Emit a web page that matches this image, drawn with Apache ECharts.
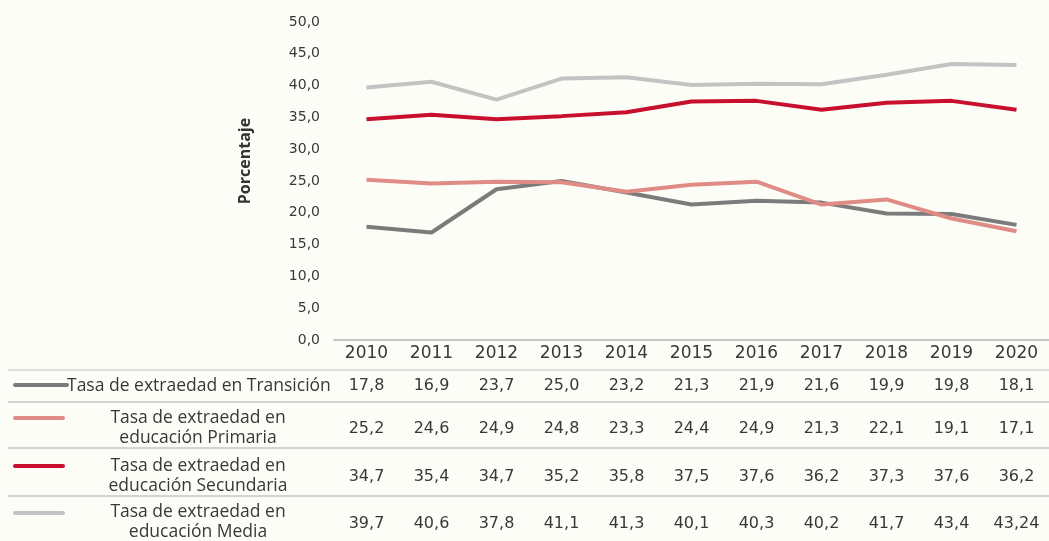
<!DOCTYPE html>
<html><head><meta charset="utf-8">
<script src="https://cdn.jsdelivr.net/npm/echarts@6/dist/echarts.min.js"></script>
<style>html,body{margin:0;padding:0;background:#fdfdf7}#c{width:1049px;height:541px}</style>
</head><body><div id="c"></div><script>
const years = ['2010','2011','2012','2013','2014','2015','2016','2017','2018','2019','2020'];
const transicion = [17.8,16.9,23.7,25.0,23.2,21.3,21.9,21.6,19.9,19.8,18.1];
const primaria = [25.2,24.6,24.9,24.8,23.3,24.4,24.9,21.3,22.1,19.1,17.1];
const secundaria = [34.7,35.4,34.7,35.2,35.8,37.5,37.6,36.2,37.3,37.6,36.2];
const media = [39.7,40.6,37.8,41.1,41.3,40.1,40.3,40.2,41.7,43.4,43.24];
const seriesNames = ['Tasa de extraedad en Transición','Tasa de extraedad en\neducación Primaria','Tasa de extraedad en\neducación Secundaria','Tasa de extraedad en\neducación Media'];
const colors = ['#7b7b7b','#e08c86','#c8102e','#c3c3c3'];
const rows = [transicion, primaria, secundaria, media];

function fmt(v){
  const t = v*10;
  const s = Math.abs(t - Math.round(t)) < 1e-6 ? v.toFixed(1) : String(v);
  return s.replace('.', ',');
}
const numFont = 'DejaVu Sans';
const txt = '#383838';
const rowMargins = [46, 89, 137, 184];

const xAxes = [{
  type:'category', data: years, gridIndex:0, position:'bottom',
  axisLine:{show:true, lineStyle:{color:'#c6c6c6', width:2}},
  axisTick:{show:false},
  axisLabel:{interval:0, margin:14, verticalAlign:'middle', fontFamily:numFont, fontSize:17, color:txt}
}];
rows.forEach((arr, r) => {
  xAxes.push({
    type:'category', data: years, gridIndex:0, position:'bottom',
    axisLine:{show:false}, axisTick:{show:false}, splitLine:{show:false},
    axisLabel:{interval:0, margin:rowMargins[r], verticalAlign:'middle', fontFamily:numFont, fontSize:16, color:txt,
      formatter:(v, i) => fmt(arr[i])}
  });
});

const graphic = [];
[370, 402, 448, 496].forEach((y, i) => {
  graphic.push({type:'line', shape:{x1:8, y1:y, x2:1049, y2:y}, style:{stroke: i===0 ? '#d6d6d6' : '#c4c4c4', lineWidth:1.5}, silent:true});
});
const legY = [385, 418, 466, 513];
legY.forEach((y, i) => {
  graphic.push({type:'line', shape:{x1:15, y1:y, x2:i===0?67:63, y2:y}, style:{stroke:colors[i], lineWidth:4, lineCap:'round'}, silent:true});
});
graphic.push({type:'text', x:67, y:386, style:{text:seriesNames[0], font:'17.5px "Open Sans"', fill:txt, textAlign:'left', textVerticalAlign:'middle'}});
[428, 476, 522].forEach((y, k) => {
  graphic.push({type:'text', x:198, y:y, style:{text:seriesNames[k+1], font:'17.5px "Open Sans"', fill:txt, textAlign:'center', textVerticalAlign:'middle', lineHeight:20}});
});
graphic.push({type:'text', x:245, y:161, rotation:Math.PI/2, style:{text:'Porcentaje', font:'bold 16px "Open Sans"', fill:'#333', textAlign:'center', textVerticalAlign:'middle'}});

const chart = echarts.init(document.getElementById('c'), null, {renderer:'canvas'});
chart.setOption({
  backgroundColor:'#fdfdf7',
  animation:false,
  grid:{left:334, top:22, width:720, height:318, containLabel:false},
  xAxis: xAxes,
  yAxis:{type:'value', min:0, max:50, interval:5,
    axisLine:{show:false}, axisTick:{show:false}, splitLine:{show:false},
    axisLabel:{margin:14, fontFamily:numFont, fontSize:14, color:txt, formatter:v => v.toFixed(1).replace('.', ',')}},
  series: rows.map((arr, i) => ({
    type:'line', name:seriesNames[i], data:arr, xAxisIndex:0, yAxisIndex:0,
    symbol:'none', lineStyle:{color:colors[i], width:4}, itemStyle:{color:colors[i]}, z:2+i
  })),
  graphic: graphic
});
</script></body></html>
